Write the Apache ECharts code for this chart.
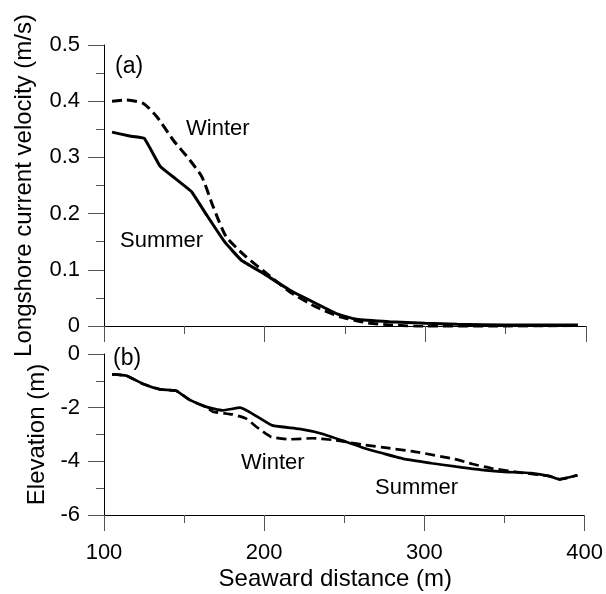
<!DOCTYPE html>
<html>
<head>
<meta charset="utf-8">
<script src="https://cdn.jsdelivr.net/npm/echarts@6/dist/echarts.min.js"></script>
<style>
  html, body { margin: 0; padding: 0; background: #fff; }
  #main { width: 606px; height: 594px; }
</style>
</head>
<body>
<div id="main"></div>
<script>
// (a) longshore current velocity, m/s
var velSummerX = [105, 116, 125, 135, 145, 154.5, 164, 175, 185.5, 199, 215.5, 232, 245.5, 257, 277.6, 300, 320, 350, 395];
var velSummerY = [0.345, 0.338, 0.334, 0.284, 0.261, 0.239, 0.197, 0.150, 0.117, 0.094, 0.064, 0.040, 0.021, 0.012, 0.0077, 0.005, 0.003, 0.002, 0.002];
var velWinterX = [105, 114, 124.5, 133, 143, 153.5, 161, 168, 176, 188.5, 201, 215.5, 232, 246.5, 263, 278, 300, 340, 395];
var velWinterY = [0.400, 0.402, 0.396, 0.372, 0.331, 0.295, 0.265, 0.212, 0.159, 0.123, 0.094, 0.061, 0.034, 0.017, 0.006, 0.002, -0.001, -0.001, 0.001];

// (b) elevation, m
var eleSummerX = [105, 114, 124.5, 135, 145, 153.5, 164, 174, 185, 195, 205, 222, 236, 251, 262, 274, 288, 304.5, 320, 335.5, 350, 366.5, 378, 384, 395.5];
var eleSummerY = [-0.76, -0.81, -1.12, -1.32, -1.37, -1.71, -1.97, -2.10, -2.00, -2.31, -2.66, -2.79, -2.97, -3.27, -3.50, -3.70, -3.92, -4.07, -4.20, -4.32, -4.39, -4.44, -4.55, -4.67, -4.52];
var eleWinterX = [105, 114, 124.5, 135, 145, 153.5, 164, 168, 180, 188.5, 195, 204, 215.5, 230, 242.5, 250, 263, 278, 296, 319, 330, 342, 360, 378, 384.5, 395.5];
var eleWinterY = [-0.76, -0.81, -1.12, -1.32, -1.37, -1.71, -1.99, -2.15, -2.25, -2.40, -2.71, -3.08, -3.18, -3.14, -3.20, -3.27, -3.39, -3.51, -3.66, -3.92, -4.10, -4.26, -4.42, -4.55, -4.67, -4.52];

var xTicks = [100, 200, 300, 400];

function pairs(xs, ys) {
  return xs.map(function (x, i) { return [x, ys[i]]; });
}

var FONT = "'Liberation Sans', Arial, sans-serif";
var tickStyle = { color: '#555', width: 1 };

function xAxisCfg(idx, showLabel) {
  return {
    type: 'value',
    gridIndex: idx,
    min: xTicks[0],
    max: xTicks[xTicks.length - 1],
    interval: 100,
    axisLine: { show: true, onZero: false, lineStyle: { color: '#000', width: 1 } },
    axisTick: { show: true, length: 16, lineStyle: tickStyle },
    minorTick: { show: true, splitNumber: 2, length: 8, lineStyle: tickStyle },
    splitLine: { show: false },
    axisLabel: { show: showLabel, margin: 27, fontSize: 22, color: '#000', fontFamily: FONT },
    name: showLabel ? 'Seaward distance (m)' : '',
    nameLocation: 'middle',
    nameGap: 52,
    nameTextStyle: { fontSize: 24, color: '#000', fontFamily: FONT, padding: [0, 18, 0, 0] }
  };
}

function yAxisCfg(idx, min, max, step, name, gap) {
  return {
    type: 'value',
    gridIndex: idx,
    min: min,
    max: max,
    interval: step,
    axisLine: { show: true, onZero: false, lineStyle: { color: '#000', width: 1 } },
    axisTick: { show: true, length: 16, lineStyle: tickStyle },
    minorTick: { show: true, splitNumber: 2, length: 8, lineStyle: tickStyle },
    splitLine: { show: false },
    axisLabel: { margin: 24, fontSize: 22, color: '#000', fontFamily: FONT },
    name: name,
    nameLocation: 'middle',
    nameGap: gap,
    nameTextStyle: { fontSize: 24, color: '#000', fontFamily: FONT }
  };
}

function lineSeries(idx, data, dashed, width, smooth) {
  return {
    type: 'line',
    xAxisIndex: idx,
    yAxisIndex: idx,
    data: data,
    showSymbol: false,
    smooth: smooth,
    silent: true,
    lineStyle: { color: '#000', width: width, type: dashed ? [10, 5] : 'solid' }
  };
}

function label(text, x, y, size) {
  return {
    type: 'text',
    x: x,
    y: y,
    style: { text: text, fill: '#000', font: size + 'px ' + FONT, verticalAlign: 'middle', align: 'left' }
  };
}

var chart = echarts.init(document.getElementById('main'), null, { renderer: 'canvas' });
chart.setOption({
  animation: false,
  backgroundColor: '#fff',
  grid: [
    { left: 104, right: 20, top: 45, height: 281 },
    { left: 104, right: 20, top: 354, height: 161 }
  ],
  xAxis: [xAxisCfg(0, false), xAxisCfg(1, true)],
  yAxis: [
    yAxisCfg(0, 0, 0.5, 0.1, 'Longshore current velocity (m/s)', 68),
    yAxisCfg(1, -6, 0, 2, 'Elevation (m)', 53)
  ],
  series: [
    lineSeries(0, pairs(velSummerX, velSummerY), false, 3, 0.1),
    lineSeries(0, pairs(velWinterX, velWinterY), true, 3, 0.2),
    lineSeries(1, pairs(eleSummerX, eleSummerY), false, 2.7, 0.15),
    lineSeries(1, pairs(eleWinterX, eleWinterY), true, 2.7, 0.15)
  ],
  graphic: [
    label('(a)', 115, 67, 23),
    label('(b)', 113, 359, 23),
    label('Winter', 186, 129, 22),
    label('Summer', 120, 241, 22),
    label('Winter', 241, 463, 22),
    label('Summer', 375, 488, 22)
  ]
});
</script>
</body>
</html>
